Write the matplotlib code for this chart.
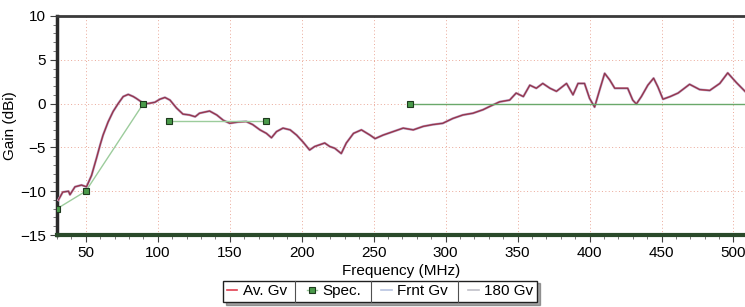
import numpy as np
import matplotlib.pyplot as plt
from matplotlib.lines import Line2D
from matplotlib.ticker import MultipleLocator

plt.rcParams['font.family'] = ['Liberation Sans', 'DejaVu Sans']

freq = [31, 34, 38, 39, 42.5, 47, 50.5, 54, 57.5, 60, 62, 65.5, 69, 72.5, 76, 79.5,
        83, 85, 89, 93, 98, 101.5, 105, 108.5, 113, 117.5, 122, 126, 129, 136, 141,
        145.5, 150, 156, 161.5, 166, 171, 175.5, 179, 182.5, 187, 192, 196.5, 201,
        205.5, 209, 212.5, 216, 219.5, 223, 227.5, 231, 236, 241.5, 247.5, 251, 256.5,
        263.5, 270.5, 277.5, 284.5, 291, 298, 305, 312, 319, 326, 331, 337.5, 344.5,
        349, 354, 358.5, 363, 367.5, 372.5, 377, 384, 388.5, 392, 396.5, 400, 403.5,
        407, 410.5, 414, 417.5, 422, 426.5, 430, 432.5, 436, 440.5, 444.5, 447.5, 451,
        456, 461.5, 469.5, 476.5, 483.5, 490.5, 496, 502, 508]
gain = [-11.0, -10.1, -10.0, -10.4, -9.5, -9.3, -9.5, -8.2, -6.2, -4.7, -3.6, -2.1,
        -0.9, 0.0, 0.8, 1.05, 0.8, 0.6, 0.15, 0.0, 0.15, 0.5, 0.7, 0.4, -0.5, -1.2,
        -1.3, -1.5, -1.1, -0.85, -1.3, -1.9, -2.25, -2.1, -2.05, -2.4, -3.0, -3.4,
        -3.9, -3.2, -2.8, -3.0, -3.6, -4.4, -5.3, -4.9, -4.7, -4.5, -4.9, -5.1, -5.7,
        -4.5, -3.4, -3.0, -3.6, -4.0, -3.6, -3.2, -2.8, -3.0, -2.6, -2.4, -2.25, -1.7,
        -1.3, -1.1, -0.7, -0.3, 0.2, 0.4, 1.2, 0.8, 2.1, 1.75, 2.3, 1.75, 1.4, 2.3,
        1.0, 2.3, 2.3, 0.6, -0.4, 1.55, 3.45, 2.7, 1.75, 1.75, 1.75, 0.4, -0.05, 0.8,
        2.1, 2.9, 1.9, 0.5, 0.8, 1.2, 2.2, 1.6, 1.5, 2.3, 3.5, 2.4, 1.4]

# spec mask
spec_f1 = [30, 50, 90]
spec_g1 = [-12, -10, 0]
spec_f2 = [108, 175]
spec_g2 = [-2, -2]
spec_f3 = [275, 510]
spec_g3 = [0, 0]

fig = plt.figure(figsize=(7.45, 3.07), dpi=100)
ax = fig.add_axes([0.0765, 0.2345, 0.9235, 0.7135])

ax.plot(freq, gain, color='#b4c0e4', lw=1.8, zorder=3)          # Frnt Gv
ax.plot(freq, gain, color='#e0505e', lw=1.2, zorder=4)          # Av. Gv
ax.plot(freq, gain, color='#6a3a58', lw=0.6, zorder=5)          # 180 Gv

spec_kw = dict(color='#9ccc9c', lw=1.0, zorder=6)
mk_kw = dict(marker='s', ms=4.5, mfc='#4a9a4a', mec='#1e3a1e', mew=0.8)
ax.plot(spec_f1, spec_g1, **spec_kw, **mk_kw)
ax.plot(spec_f2, spec_g2, **spec_kw, **mk_kw)
ax.plot(spec_f3, spec_g3, color='#6aa86a', lw=1.0, zorder=6)
ax.plot(spec_f3[:1], spec_g3[:1], ls='none', zorder=7, **mk_kw)

ax.set_xlim(30, 508)
ax.set_ylim(-15, 10)
ax.xaxis.set_major_locator(MultipleLocator(50))
ax.xaxis.set_minor_locator(MultipleLocator(10))
ax.yaxis.set_major_locator(MultipleLocator(5))
ax.yaxis.set_minor_locator(MultipleLocator(1))
ax.grid(True, which='major', ls=(0, (1, 2.5)), color='#eaa898', lw=0.7)
ax.tick_params(which='major', length=5, width=0.8, color='#404040', labelsize=11, pad=3)
ax.tick_params(which='minor', length=3, width=0.6, color='#606060')

ax.spines['right'].set_visible(False)
ax.spines['top'].set_color('#3a3a3a')
ax.spines['top'].set_linewidth(2)
ax.spines['left'].set_color('#2a2a2a')
ax.spines['left'].set_linewidth(2.5)
ax.spines['bottom'].set_color('#2a4a2a')
ax.spines['bottom'].set_linewidth(3)

ax.set_xlabel('Frequency (MHz)', fontsize=11, labelpad=3)
ax.set_ylabel('Gain (dBi)', fontsize=11, labelpad=2)

handles = [Line2D([], [], color='#e04050', lw=1.2),
           Line2D([], [], color='#9ccc9c', lw=1.0, **mk_kw),
           Line2D([], [], color='#b8c4e0', lw=1.2),
           Line2D([], [], color='#c0c0c8', lw=1.2)]
labels = ['Av. Gv', 'Spec.', 'Frnt Gv', '180 Gv']
leg = fig.legend(handles, labels, ncol=4, loc='center', bbox_to_anchor=(0.51, 0.051),
                 fontsize=11, frameon=True, fancybox=False, shadow=True,
                 handlelength=0.7, handletextpad=0.35, columnspacing=1.3,
                 borderpad=0.25, borderaxespad=0.2, edgecolor='#202020')
leg.get_frame().set_linewidth(1.0)

# vertical separators between legend entries
fig.canvas.draw()
inv = fig.transFigure.inverted()
fb = leg.get_frame().get_window_extent()
texts = leg.get_texts()
lines = leg.get_lines()
for t, ln in zip(texts[:-1], lines[1:]):
    x_end = t.get_window_extent().x1
    x_next = ln.get_window_extent().x0
    xm = (x_end + x_next) / 2
    (x0, y0), (x1, y1) = inv.transform([(xm, fb.y0), (xm, fb.y1)])
    fig.add_artist(Line2D([x0, x1], [y0, y1], color='#505050', lw=0.8,
                          transform=fig.transFigure, zorder=20))

fig.savefig('out.png', dpi=100)
